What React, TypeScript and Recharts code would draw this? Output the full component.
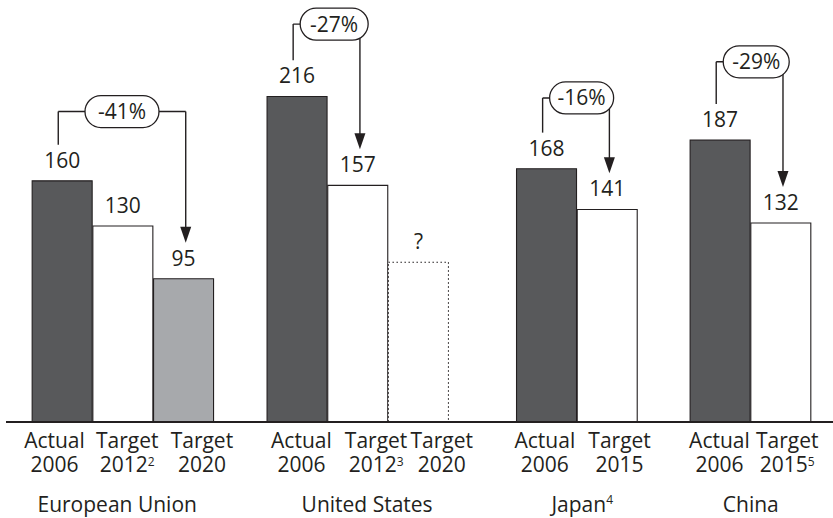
import { BarChart, Bar, XAxis, YAxis, Cell, LabelList, ReferenceLine, ReferenceDot } from 'recharts';

// Bars, in drawing order
const REGIONS = ['European Union', 'United States', 'Japan', 'China'];
const REGION_NOTES = ['', '', '4', ''];
const BAR_REGION = [0, 0, 0, 1, 1, 1, 2, 2, 3, 3];
const BAR_STATUS = ['Actual', 'Target', 'Target', 'Actual', 'Target', 'Target', 'Actual', 'Target', 'Actual', 'Target'];
const BAR_YEARS = ['2006', '2012', '2020', '2006', '2012', '2020', '2006', '2015', '2006', '2015'];
const BAR_NOTES = ['', '2', '', '', '3', '', '', '', '', '5'];
const BAR_VALUES = [160, 130, 95, 216, 157, 106, 168, 141, 187, 132];
const BAR_LABELS = ['160', '130', '95', '216', '157', '?', '168', '141', '187', '132'];
const BAR_KINDS = ['actual', 'target', 'goal', 'actual', 'target', 'unknown', 'actual', 'target', 'actual', 'target'];

// Change brackets: from actual bar to target bar
const CHANGES = ['-41%', '-27%', '-16%', '-29%'];
const CHANGE_FROM = [0, 3, 6, 8];
const CHANGE_TO = [2, 4, 7, 9];

const INK = '#231f20';
const FONT = '"Open Sans", sans-serif';

// layout (x in bar widths, y in chart units)
const REGION_GAPS = [0, 0.87, 1.11, 0.86];
const LABEL_SHIFT = [-8, 4, 18, 4, 18, 23, -2, 12, -1, 6];
const REGION_SHIFT = [-6, 9, 5, 0];
const BRACKET_LEVELS = [206, 264, 215, 239];
const PILL_WIDTHS = [74, 68, 64, 66];
const X_DOMAIN: [number, number] = [-0.931, 12.694];

const KIND_STYLE: Record<string, { fill: string; stroke: string; strokeDasharray?: string }> = {
  actual: { fill: '#58595b', stroke: INK },
  target: { fill: '#ffffff', stroke: INK },
  goal: { fill: '#a7a9ac', stroke: INK },
  unknown: { fill: '#ffffff', stroke: INK, strokeDasharray: '1.5 2.5' },
};

const positions: number[] = [];
let cursor = -1;
BAR_REGION.forEach((r, i) => {
  cursor += 1 + (i > 0 && r !== BAR_REGION[i - 1] ? REGION_GAPS[r] : 0);
  positions.push(cursor);
});

const regionCenters = REGIONS.map((_, r) => {
  const p = positions.filter((_, i) => BAR_REGION[i] === r);
  return (Math.min(...p) + Math.max(...p)) / 2;
});

const data = BAR_VALUES.map((v, i) => ({
  pos: positions[i],
  value: v,
  label: BAR_LABELS[i],
  kind: BAR_KINDS[i],
}));

function BarTick(props: any) {
  const { x, y, payload } = props;
  const i = positions.indexOf(payload.value);
  if (i < 0) return null;
  const cx = x + LABEL_SHIFT[i];
  return (
    <text x={cx} y={y + 26} textAnchor="middle" fontFamily={FONT} fontSize={21} fill={INK}>
      <tspan x={cx}>{BAR_STATUS[i]}</tspan>
      <tspan x={cx} dy={24}>{BAR_YEARS[i]}</tspan>
      {BAR_NOTES[i] && <tspan fontSize={12} dy={-6}>{BAR_NOTES[i]}</tspan>}
    </text>
  );
}

// region name, hung below the axis labels from a point on the baseline
function RegionLabel(props: any) {
  const { cx, cy, index } = props;
  return (
    <text x={cx + REGION_SHIFT[index]} y={cy + 90} textAnchor="middle" fontFamily={FONT} fontSize={21} fill={INK}>
      {REGIONS[index]}
      {REGION_NOTES[index] && <tspan fontSize={12} dy={-8}>{REGION_NOTES[index]}</tspan>}
    </text>
  );
}

function Arrow(props: any) {
  const { x1, y1, x2, y2 } = props;
  return (
    <g>
      <line x1={x1} y1={y1} x2={x2} y2={y2 - 12} stroke={INK} strokeWidth={1.4} />
      <polygon points={`${x2 - 5.5},${y2 - 16} ${x2 + 5.5},${y2 - 16} ${x2},${y2}`} fill={INK} />
    </g>
  );
}

function Pill(props: any) {
  const { cx, cy, text, width, centered } = props;
  const h = 32;
  const left = centered ? cx - width / 2 : cx + 7;
  return (
    <g>
      <rect x={left} y={cy - h / 2} width={width} height={h} rx={h / 2} fill="#ffffff" stroke={INK} strokeWidth={1.3} />
      <text x={left + width / 2} y={cy + 7.5} textAnchor="middle" fontFamily={FONT} fontSize={21} fill={INK}>
        {text}
      </text>
    </g>
  );
}

export default function App() {
  return (
    <div style={{ position: 'absolute', left: 0, top: 0, background: '#fff' }}>
      <BarChart width={833} height={518} data={data} margin={{ top: 0, right: 0, bottom: 36, left: 6 }}>
        <YAxis hide domain={[0, 280]} allowDataOverflow />
        <XAxis
          type="number"
          dataKey="pos"
          domain={X_DOMAIN}
          allowDataOverflow
          ticks={positions}
          interval={0}
          height={60}
          tickSize={0}
          tickMargin={0}
          tickLine={false}
          axisLine={{ stroke: INK, strokeWidth: 2.2 }}
          tick={<BarTick />}
        />
        <Bar dataKey="value" barSize={60} isAnimationActive={false}>
          {data.map((d, i) => (
            <Cell key={`bar-${i}`} {...KIND_STYLE[d.kind]} strokeWidth={1.1} />
          ))}
          <LabelList dataKey="label" position="top" offset={13} fill={INK} fontSize={21} fontFamily={FONT} />
        </Bar>
        {regionCenters.map((c, r) => (
          <ReferenceDot
            key={`region-${r}`}
            x={c}
            y={0}
            r={0}
            shape={(p: any) => <RegionLabel {...p} index={r} />}
          />
        ))}
        {CHANGES.map((c, k) => {
          const from = CHANGE_FROM[k];
          const to = CHANGE_TO[k];
          const legX = positions[from] - 0.07;
          const arrowX = positions[to] + 0.03;
          const base = BAR_VALUES[from] + 24;
          const level = BRACKET_LEVELS[k];
          const tip = BAR_VALUES[to] + 24;
          const centered = arrowX - legX > 1.8;
          return [
            <ReferenceLine
              key={`leg-${k}`}
              segment={[{ x: legX, y: base }, { x: legX, y: level }]}
              stroke={INK}
              strokeWidth={1.4}
            />,
            <ReferenceLine
              key={`top-${k}`}
              segment={[{ x: legX, y: level }, { x: arrowX, y: level }]}
              stroke={INK}
              strokeWidth={1.4}
            />,
            <ReferenceLine
              key={`arrow-${k}`}
              segment={[{ x: arrowX, y: level }, { x: arrowX, y: tip }]}
              shape={(p: any) => <Arrow {...p} />}
            />,
            <ReferenceDot
              key={`pill-${k}`}
              x={centered ? (legX + arrowX) / 2 : legX}
              y={level}
              r={0}
              shape={(p: any) => <Pill {...p} text={c} width={PILL_WIDTHS[k]} centered={centered} />}
            />,
          ];
        })}
      </BarChart>
    </div>
  );
}
